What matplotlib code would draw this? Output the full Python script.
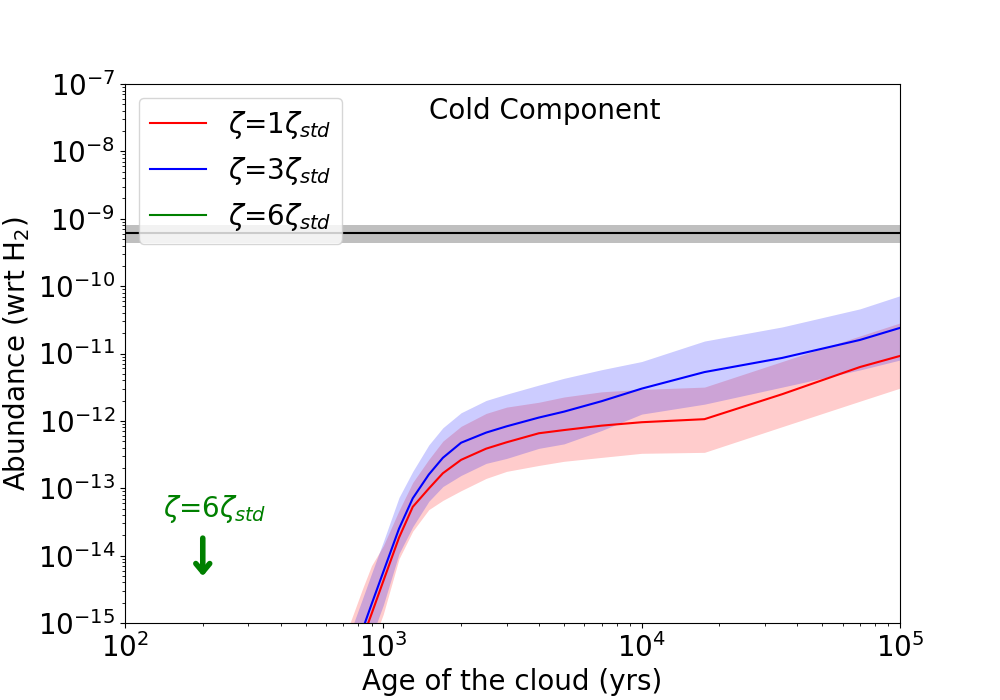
import matplotlib
matplotlib.use('Agg')
import matplotlib.pyplot as plt
import numpy as np

# time grid (yrs)
age = [700, 760, 830, 900, 1000, 1150, 1300, 1500, 1700, 2000, 2500, 3000,
       4000, 5000, 7000, 1e4, 1.75e4, 3.5e4, 7e4, 1e5]

# zeta = 1 zeta_std
ab1 = [9.1e-17, 2.29e-16, 5.8e-16, 1.36e-15, 4.2e-15, 1.85e-14, 5.3e-14, 9.9e-14,
       1.67e-13, 2.64e-13, 3.87e-13, 4.81e-13, 6.55e-13, 7.3e-13, 8.5e-13, 9.55e-13,
       1.06e-12, 2.49e-12, 6.3e-12, 9.2e-12]
ab1_hi = [5.4e-16, 1.27e-15, 3.2e-15, 7.1e-15, 1.40e-14, 4.67e-14, 1.22e-13, 2.68e-13,
          5.0e-13, 8.3e-13, 1.29e-12, 1.60e-12, 1.89e-12, 2.26e-12, 2.70e-12, 2.93e-12,
          3.17e-12, 7.6e-12, 1.82e-11, 2.84e-11]
ab1_lo = [3.1e-17, 7.6e-17, 1.93e-16, 4.5e-16, 1.36e-15, 8.97e-15, 2.31e-14, 4.82e-14,
          6.6e-14, 9.2e-14, 1.40e-13, 1.78e-13, 2.18e-13, 2.51e-13, 2.87e-13, 3.30e-13,
          3.41e-13, 8.2e-13, 1.96e-12, 3.06e-12]

# zeta = 3 zeta_std
ab3 = [1.23e-16, 3.1e-16, 7.9e-16, 1.89e-15, 5.75e-15, 2.51e-14, 7.1e-14, 1.60e-13,
       2.83e-13, 4.74e-13, 6.7e-13, 8.3e-13, 1.12e-12, 1.37e-12, 1.96e-12, 3.01e-12,
       5.3e-12, 8.6e-12, 1.59e-11, 2.40e-11]
ab3_hi = [3.8e-16, 9.0e-16, 2.28e-15, 5.4e-15, 1.61e-14, 7.3e-14, 1.78e-13, 4.4e-13,
          7.9e-13, 1.32e-12, 2.01e-12, 2.49e-12, 3.40e-12, 4.28e-12, 5.75e-12, 7.6e-12,
          1.53e-11, 2.48e-11, 4.6e-11, 7.2e-11]
ab3_lo = [4.3e-17, 1.04e-16, 2.62e-16, 6.2e-16, 1.85e-15, 1.07e-14, 2.69e-14, 6.4e-14,
          1.06e-13, 1.55e-13, 2.34e-13, 2.77e-13, 3.91e-13, 4.55e-13, 7.2e-13, 1.26e-12,
          1.77e-12, 3.17e-12, 5.7e-12, 8.0e-12]

# observed abundance and its range
obs = 6.1e-10
obs_lo, obs_hi = 4.3e-10, 8.0e-10

# upper limit for zeta = 6 zeta_std
lim_age = 200
lim_top, lim_bot = 2.0e-14, 4.5e-15

fig, ax = plt.subplots(figsize=(10, 7), dpi=100)

ax.axhspan(obs_lo, obs_hi, color='gray', alpha=0.5, lw=0)
ax.axhline(obs, color='k', lw=1.5)

ax.fill_between(age, ab1_lo, ab1_hi, color='red', alpha=0.2, lw=0)
ax.fill_between(age, ab3_lo, ab3_hi, color='blue', alpha=0.2, lw=0)
ax.plot(age, ab1, color='red', lw=1.5, label=r'$\zeta$=1$\zeta_{std}$')
ax.plot(age, ab3, color='blue', lw=1.5, label=r'$\zeta$=3$\zeta_{std}$')
ax.plot([], [], color='green', lw=1.5, label=r'$\zeta$=6$\zeta_{std}$')

ax.annotate('', xy=(lim_age, lim_bot), xytext=(lim_age, lim_top),
            arrowprops=dict(arrowstyle='->,head_width=0.5,head_length=0.6',
                            color='green', lw=4))
ax.text(223, 5e-14, r'$\zeta$=6$\zeta_{std}$', color='green', fontsize=20,
        ha='center', va='center')

ax.text(0.542, 0.95, 'Cold Component', transform=ax.transAxes, fontsize=20,
        ha='center', va='center')

ax.set_xscale('log')
ax.set_yscale('log')
ax.set_xlim(1e2, 1e5)
ax.set_ylim(1e-15, 1e-7)
ax.set_xlabel('Age of the cloud (yrs)', fontsize=20)
ax.set_ylabel(r'Abundance (wrt H$_2$)', fontsize=20)
ax.tick_params(labelsize=20)
ax.legend(loc='upper left', fontsize=20)

fig.savefig('out.png')
